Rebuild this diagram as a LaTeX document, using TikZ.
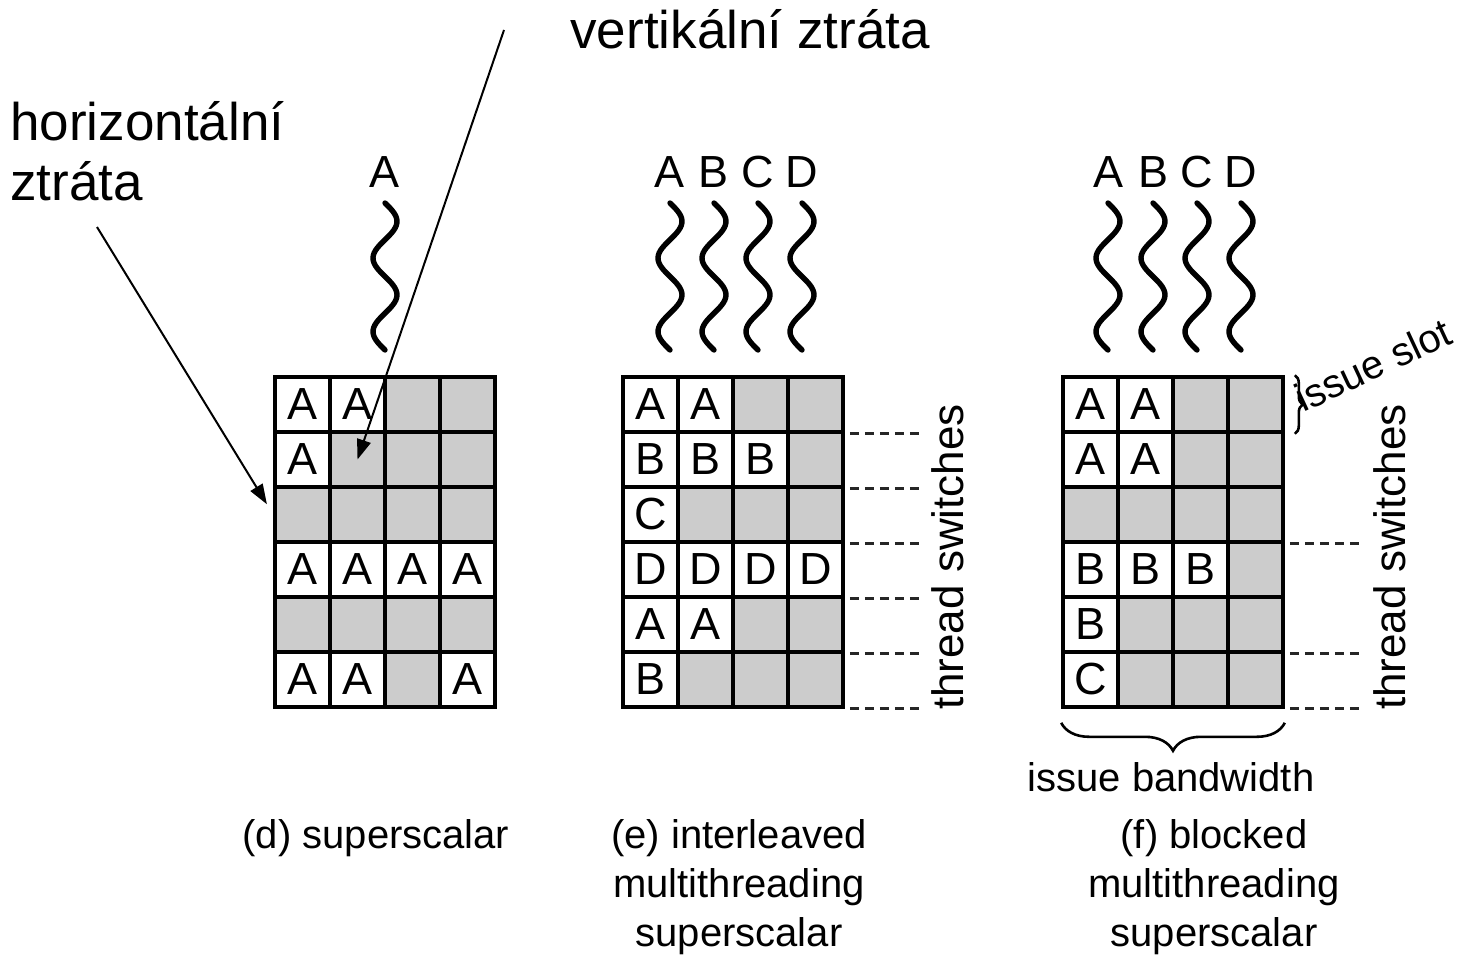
\documentclass[tikz,border=0pt]{standalone}
\usepackage{fontspec}
\setmainfont{Liberation Sans}
\usepackage{tikz}
\usetikzlibrary{arrows.meta,positioning,calc,decorations.pathreplacing}

% one issue-slot grid: #1 name, #2 left edge, #3 rows (. = empty slot)
\newcommand{\slotgrid}[3]{%
  \foreach \rowlist [count=\ri] in {#3} {
    \foreach \slot [count=\ci] in \rowlist {
      \if\slot.
        \node[idle] (#1-\ri-\ci) at ({#2+55*\ci-27.5}, {377+55*\ri-27.5}) {};
      \else
        \node[busy] (#1-\ri-\ci) at ({#2+55*\ci-27.5}, {377+55*\ri-27.5}) {\slot};
      \fi
    }
  }%
}

\begin{document}
\begin{tikzpicture}[x=0.5pt, y=-0.5pt,
    busy/.style={draw, line width=1.8pt, fill=white, minimum size=27.5pt, inner sep=0pt, font=\fontsize{22.5}{27}\selectfont},
    idle/.style={busy, fill=black!20},
    thread/.style={inner sep=0pt, font=\fontsize{22.5}{27}\selectfont},
    wave/.style={line width=2.7pt, line cap=round},
    caption/.style={align=center, inner sep=0pt, font=\fontsize{20}{24.5}\selectfont},
    note/.style={inner sep=0pt, font=\fontsize{22}{26}\selectfont},
    big/.style={inner sep=0pt, font=\fontsize{26.5}{30}\selectfont},
    switchline/.style={line width=1.4pt, black!85, dash pattern=on 4.5pt off 3pt},
    loss/.style={line width=1pt, -{Triangle[length=10pt,width=7pt]}},
    brace/.style={decorate, decoration={brace, amplitude=#1}, line width=1.3pt}]
  \useasboundingbox (0,0) rectangle (1464,958);

  % (d) superscalar
  \slotgrid{d}{275}{{A,A,.,.},{A,.,.,.},{.,.,.,.},{A,A,A,A},{.,.,.,.},{A,A,.,A}}
  \node[thread] (d-A) at (385,172) {A};
  \draw[wave] plot[variable=\t, domain=203:350, samples=60, smooth] ({385+12*sin(4.898*(\t-203))}, \t);
  \node[caption] (d-cap) at (376,838) {(d) superscalar};

  % (e) interleaved
  \slotgrid{e}{623}{{A,A,.,.},{B,B,B,.},{C,.,.,.},{D,D,D,D},{A,A,.,.},{B,.,.,.}}
  \foreach \n/\px in {A/670,B/714,C/758,D/802} {
    \node[thread] (e-\n) at (\px,172) {\n};
    \draw[wave] plot[variable=\t, domain=203:350, samples=60, smooth] ({\px+12*sin(4.898*(\t-203))}, \t);
  }
  \foreach \ri in {1,...,6}
    \draw[switchline] ([xshift=2.5pt]e-\ri-4.south east) -- ++(75,0);
  \node[note, rotate=90] (e-sw) at (948,557) {thread switches};
  \node[caption] (e-cap) at (739,887) {(e) interleaved\\multithreading\\superscalar};

  % (f) blocked
  \slotgrid{f}{1063}{{A,A,.,.},{A,A,.,.},{.,.,.,.},{B,B,B,.},{B,.,.,.},{C,.,.,.}}
  \foreach \n/\px in {A/1108,B/1153,C/1197,D/1241} {
    \node[thread] (f-\n) at (\px,172) {\n};
    \draw[wave] plot[variable=\t, domain=203:350, samples=60, smooth] ({\px+12*sin(4.898*(\t-203))}, \t);
  }
  \foreach \ri in {3,5,6}
    \draw[switchline] ([xshift=2.5pt]f-\ri-4.south east) -- ++(75,0);
  \node[note, rotate=90] (f-sw) at (1390,557) {thread switches};
  \draw[brace=4pt] ([xshift=5pt]f-1-4.north east) -- ([xshift=5pt]f-1-4.south east);
  \node[caption, rotate=25, anchor=base west] (slot) at (1303,413) {issue slot};
  \draw[brace=14pt] ([yshift=-7pt]f-6-4.south east) -- ([yshift=-7pt]f-6-1.south west);
  \node[caption] (bw) at (1171,777) {issue bandwidth};
  \node[caption] (f-cap) at (1214,887) {(f) blocked\\multithreading\\superscalar};

  % losses
  \node[big, anchor=base west] (vz) at (570,48) {vertikální ztráta};
  \node[big, anchor=base west] (hz-1) at (10,140) {horizontální};
  \node[big, anchor=base west] (hz-2) at (10,200) {ztráta};
  \coordinate (vz-from) at (504,30);
  \coordinate (hz-from) at (97,227);
  \draw[loss] (vz-from) -- (d-2-2.center);
  \draw[loss, shorten >=6pt] (hz-from) -- (d-3-1.west);
\end{tikzpicture}
\end{document}
